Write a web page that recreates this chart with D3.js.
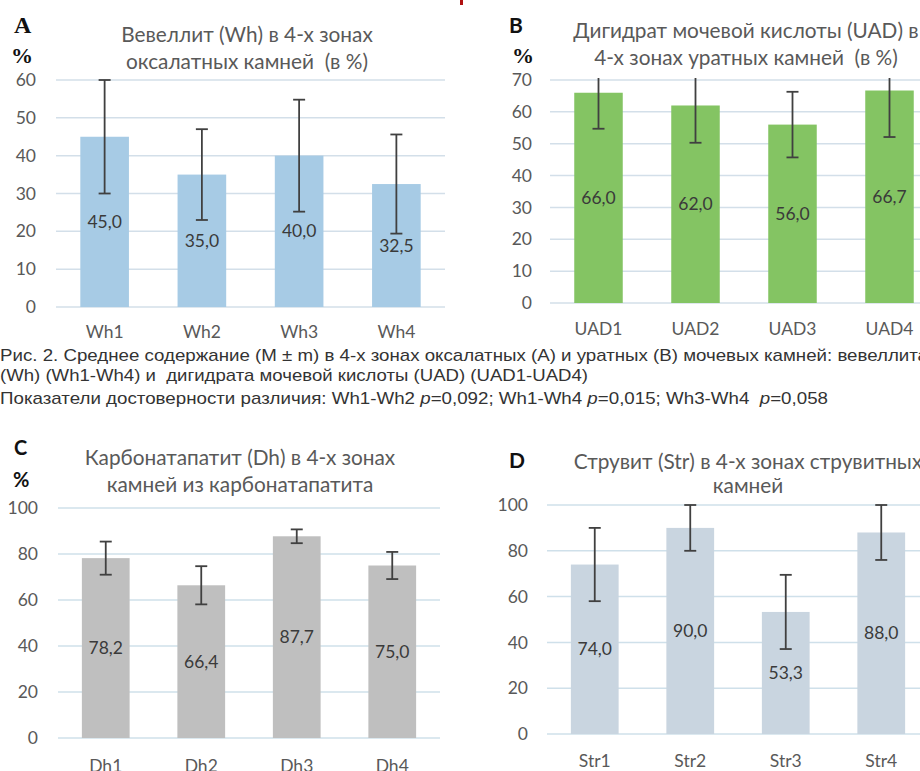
<!DOCTYPE html>
<html>
<head>
<meta charset="utf-8">
<script src="https://cdn.jsdelivr.net/npm/d3@7"></script>
<style>
  html, body { margin: 0; padding: 0; background: #fff; }
  svg { display: block; }
  text { white-space: pre; }
</style>
</head>
<body>
<script>
// ---------- DATA ----------
const whCategories = ["Wh1", "Wh2", "Wh3", "Wh4"];
const whValues = [45.0, 35.0, 40.0, 32.5];
const whErrors = [15.0, 12.0, 14.8, 13.1];
const whTicks = [0, 10, 20, 30, 40, 50, 60];

const uadCategories = ["UAD1", "UAD2", "UAD3", "UAD4"];
const uadValues = [66.0, 62.0, 56.0, 66.7];
const uadErrors = [11.3, 11.7, 10.3, 14.6];
const uadTicks = [0, 10, 20, 30, 40, 50, 60, 70];

const dhCategories = ["Dh1", "Dh2", "Dh3", "Dh4"];
const dhValues = [78.2, 66.4, 87.7, 75.0];
const dhErrors = [7.2, 8.3, 3.0, 5.9];
const dhTicks = [0, 20, 40, 60, 80, 100];

const strCategories = ["Str1", "Str2", "Str3", "Str4"];
const strValues = [74.0, 90.0, 53.3, 88.0];
const strErrors = [16.0, 10.0, 16.2, 12.0];
const strTicks = [0, 20, 40, 60, 80, 100];

const captionLines = [
  "Рис. 2. Среднее содержание (M ± m) в 4-х зонах оксалатных (A) и уратных (B) мочевых камней: вевеллита",
  "(Wh) (Wh1-Wh4) и  дигидрата мочевой кислоты (UAD) (UAD1-UAD4)",
  "Показатели достоверности различия: Wh1-Wh2 p=0,092; Wh1-Wh4 p=0,015; Wh3-Wh4  p=0,058"
];

// ---------- LAYOUT ----------
const W = 920, H = 771;
const svg = d3.select("body").append("svg").attr("width", W).attr("height", H);
svg.append("rect").attr("width", W).attr("height", H).attr("fill", "#fff");

const FONT = "Lato, 'Open Sans', sans-serif";
const TXT = "#595959";

const panels = [
  { id: "A", cats: whCategories, vals: whValues, errs: whErrors, ticks: whTicks, max: 60,
    x0: 56, x1: 445, yTop: 80, yBot: 307, color: "#a7cbe5", grid: "#d3dfe9", tickX: 36, catY: 339,
    title: ["Вевеллит (Wh) в 4-х зонах", "оксалатных камней  (в %)"], titleX: 247, titleY: [42, 69] },
  { id: "B", cats: uadCategories, vals: uadValues, errs: uadErrors, ticks: uadTicks, max: 70,
    x0: 550, x1: 938, yTop: 80, yBot: 303, color: "#84c463", grid: "#d3dfe9", tickX: 532, catY: 336,
    title: ["Дигидрат мочевой кислоты (UAD) в", "4-х зонах уратных камней  (в %)"], titleX: 746, titleY: [38, 65] },
  { id: "C", cats: dhCategories, vals: dhValues, errs: dhErrors, ticks: dhTicks, max: 100,
    x0: 58, x1: 440, yTop: 508, yBot: 738, color: "#bfbfbf", grid: "#cfe0ea", tickX: 38, catY: 773,
    title: ["Карбонатапатит (Dh) в 4-х зонах", "камней из карбонатапатита"], titleX: 240, titleY: [465, 492] },
  { id: "D", cats: strCategories, vals: strValues, errs: strErrors, ticks: strTicks, max: 100,
    x0: 547, x1: 929, yTop: 505, yBot: 734, color: "#c9d5e0", grid: "#cfe0ea", tickX: 528, catY: 768,
    title: ["Струвит (Str) в 4-х зонах струвитных", "камней"], titleX: 748, titleY: [469, 493] }
];

panels.forEach(p => {
  const g = svg.append("g");
  const x = d3.scaleBand().domain(p.cats).range([p.x0, p.x1]).paddingInner(0.5).paddingOuter(0.25);
  const y = d3.scaleLinear().domain([0, p.max]).range([p.yBot, p.yTop]);

  const clipId = "clip" + p.id;
  svg.append("clipPath").attr("id", clipId).append("rect")
    .attr("x", p.x0 - 5).attr("y", p.yTop - 2).attr("width", p.x1 - p.x0 + 10).attr("height", p.yBot - p.yTop + 4);

  // gridlines
  g.selectAll("line.grid").data(p.ticks).join("line")
    .attr("x1", p.x0).attr("x2", p.x1)
    .attr("y1", d => y(d)).attr("y2", d => y(d))
    .attr("stroke", p.grid).attr("stroke-width", 1.5);

  // y tick labels via axis
  const yAxis = d3.axisLeft(y).tickValues(p.ticks).tickSize(0).tickPadding(0).tickFormat(d3.format("d"));
  const ya = g.append("g").attr("transform", `translate(${p.tickX},0)`).call(yAxis);
  ya.select(".domain").remove();
  ya.selectAll("text").attr("font-family", FONT).attr("font-size", 17.5).attr("fill", TXT);

  // bars
  g.selectAll("rect.bar").data(p.vals).join("rect")
    .attr("x", (d, i) => x(p.cats[i])).attr("width", x.bandwidth())
    .attr("y", d => y(d)).attr("height", d => y(0) - y(d))
    .attr("fill", p.color);

  // error bars
  const eg = g.append("g").attr("clip-path", `url(#${clipId})`);
  p.vals.forEach((v, i) => {
    const cx = x(p.cats[i]) + x.bandwidth() / 2;
    const hi = y(v + p.errs[i]), lo = y(v - p.errs[i]);
    eg.append("line").attr("x1", cx).attr("x2", cx).attr("y1", hi).attr("y2", lo)
      .attr("stroke", "#404040").attr("stroke-width", 1.8);
    [hi, lo].forEach(yy => eg.append("line").attr("x1", cx - 6).attr("x2", cx + 6)
      .attr("y1", yy).attr("y2", yy).attr("stroke", "#404040").attr("stroke-width", 1.8));
  });

  // data labels (centered in bar)
  g.selectAll("text.lbl").data(p.vals).join("text")
    .attr("x", (d, i) => x(p.cats[i]) + x.bandwidth() / 2)
    .attr("y", d => y(d / 2) + 6)
    .attr("text-anchor", "middle").attr("font-family", FONT).attr("font-size", 17.5).attr("fill", "#3a3a3a")
    .text(d => d.toFixed(1).replace(".", ","));

  // category labels via axis
  const xAxis = d3.axisBottom(x).tickSize(0).tickPadding(0);
  const xa = g.append("g").attr("transform", `translate(0,${p.catY - 13})`).call(xAxis);
  xa.select(".domain").remove();
  xa.selectAll("text").attr("font-family", FONT).attr("font-size", 17.5).attr("fill", TXT).attr("dy", "0.71em");

  // title
  p.title.forEach((t, k) => g.append("text").attr("x", p.titleX).attr("y", p.titleY[k])
    .attr("text-anchor", "middle").attr("font-family", FONT).attr("font-size", 20.8).attr("fill", TXT).text(t));
});

// panel letters and % marks
const serif = "'Liberation Serif', 'DejaVu Serif', serif";
svg.append("text").attr("x", 14).attr("y", 33).attr("font-family", serif).attr("font-weight", "bold")
  .attr("font-size", 24).attr("fill", "#111").text("A");
svg.append("text").attr("x", 11).attr("y", 63).attr("font-family", serif).attr("font-weight", "bold")
  .attr("font-size", 22).attr("fill", "#111").text("%");
svg.append("text").attr("x", 509).attr("y", 33).attr("font-family", FONT).attr("font-weight", "bold")
  .attr("font-size", 21).attr("fill", "#111").text("B");
svg.append("text").attr("x", 512).attr("y", 63).attr("font-family", serif).attr("font-weight", "bold")
  .attr("font-size", 22).attr("fill", "#111").text("%");
svg.append("text").attr("x", 14).attr("y", 455).attr("font-family", FONT).attr("font-weight", "bold")
  .attr("font-size", 20).attr("fill", "#111").text("C");
svg.append("text").attr("x", 13).attr("y", 487).attr("font-family", FONT).attr("font-weight", "bold")
  .attr("font-size", 20).attr("fill", "#111").text("%");
svg.append("text").attr("x", 509).attr("y", 468).attr("font-family", FONT).attr("font-weight", "bold")
  .attr("font-size", 21).attr("fill", "#111").text("D");

// small red mark at top
svg.append("rect").attr("x", 460).attr("y", 0).attr("width", 3).attr("height", 5).attr("fill", "#b01010");

// caption
const capY = [361, 381, 404];
const capLen = [928, 588, 828];
captionLines.forEach((t, k) => {
  const txt = svg.append("text").attr("x", 0).attr("y", capY[k])
    .attr("font-family", "'Liberation Sans', Arial, sans-serif").attr("font-size", 17)
    .attr("fill", "#333").attr("textLength", capLen[k]).attr("lengthAdjust", "spacingAndGlyphs");
  if (k === 2) {
    const parts = t.split("p=");
    parts.forEach((pt, j) => {
      if (j > 0) { txt.append("tspan").attr("font-style", "italic").text("p"); txt.append("tspan").text("=" + pt); }
      else txt.append("tspan").text(pt);
    });
  } else txt.text(t);
});
</script>
</body>
</html>
